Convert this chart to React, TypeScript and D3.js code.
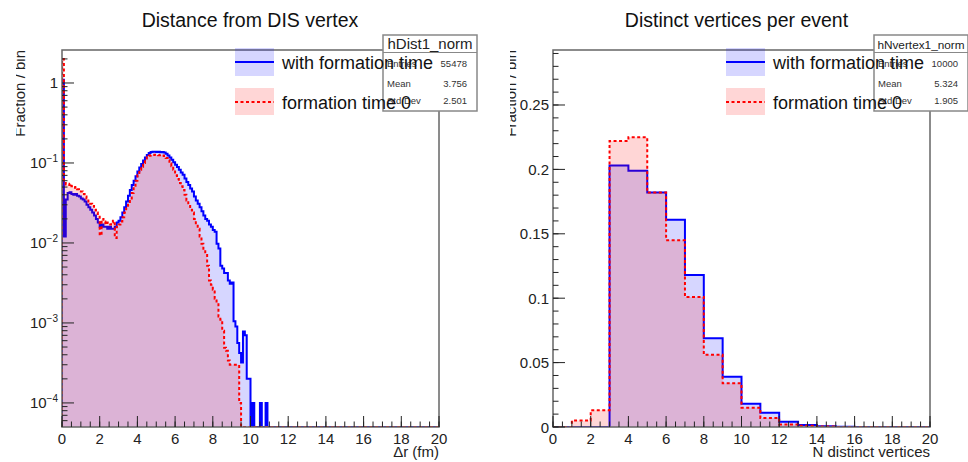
import React from "react";
import * as d3 from "d3";

const W = 968;
const H = 462;

// Distance from DIS vertex: 0.1 fm bins from 0 to 20 fm (bins past the lists are empty)
const distBinWidth = 0.1;
const distWithFormation = [
  1.1, 0.012, 0.035, 0.042, 0.043, 0.041, 0.04, 0.041, 0.039, 0.038,
  0.036, 0.035, 0.033, 0.03, 0.028, 0.026, 0.024, 0.022, 0.02, 0.018,
  0.016, 0.017, 0.016, 0.016, 0.015, 0.016, 0.015, 0.015, 0.016, 0.018,
  0.019, 0.021, 0.024, 0.028, 0.033, 0.039, 0.046, 0.053, 0.06, 0.068,
  0.078, 0.088, 0.097, 0.107, 0.117, 0.126, 0.133, 0.137, 0.138, 0.138,
  0.137, 0.138, 0.136, 0.137, 0.135, 0.13, 0.124, 0.117, 0.11, 0.102,
  0.095, 0.089, 0.082, 0.076, 0.071, 0.064, 0.058, 0.053, 0.048, 0.044,
  0.038, 0.034, 0.031, 0.028, 0.025, 0.022, 0.02, 0.019, 0.017, 0.016,
  0.0145, 0.0138, 0.0098, 0.0085, 0.0052, 0.0048, 0.0042, 0.0042, 0.0034, 0.0031,
  0.0032, 0.00105, 0.0009, 0.00056, 0.00042, 0.00032, 0.00078, 0.0007, 0.0002, 0.0002,
  0, 0.0001, 0, 0, 0, 0.0001, 0, 0, 0.0001, 0,
];
const distFormationZero = [
  2.0, 0.056, 0.054, 0.053, 0.055, 0.051, 0.049, 0.05, 0.047, 0.046,
  0.044, 0.041, 0.038, 0.036, 0.033, 0.031, 0.029, 0.026, 0.024, 0.022,
  0.0125, 0.02, 0.0185, 0.017, 0.018, 0.017, 0.018, 0.019, 0.0115, 0.016,
  0.017, 0.0185, 0.021, 0.024, 0.027, 0.03, 0.036, 0.042, 0.05, 0.06,
  0.07, 0.082, 0.09, 0.1, 0.11, 0.118, 0.123, 0.126, 0.126, 0.127,
  0.126, 0.125, 0.126, 0.124, 0.122, 0.115, 0.108, 0.099, 0.091, 0.082,
  0.07, 0.063, 0.056, 0.051, 0.046, 0.04, 0.034, 0.029, 0.026, 0.024,
  0.02, 0.017, 0.015, 0.012, 0.0098, 0.0082, 0.0073, 0.0052, 0.0034, 0.003,
  0.0026, 0.002, 0.0018, 0.0012, 0.0011, 0.0008, 0.00049, 0.00045, 0.00034, 0.0003,
  0.0003, 0.0003, 0.0003, 0.0003, 0.0001, 0,
];

// Distinct vertices per event: unit bins from 0 to 20
const nvBinWidth = 1;
const nvWithFormation = [
  0, 0, 0, 0.203, 0.199, 0.182, 0.161, 0.118, 0.069, 0.039,
  0.018, 0.011, 0.004, 0.0015, 0.0005, 0.0002, 0, 0, 0, 0,
];
const nvFormationZero = [
  0, 0.005, 0.013, 0.222, 0.225, 0.182, 0.145, 0.101, 0.056, 0.034,
  0.015, 0.007, 0.002, 0.001, 0.0003, 0, 0, 0, 0, 0,
];

const legendLabels = ["with formation time", "formation time 0"];
const xTickValues = [0, 2, 4, 6, 8, 10, 12, 14, 16, 18, 20];
const linTickValues = [0, 0.05, 0.1, 0.15, 0.2, 0.25];
const linTickLabels = ["0", "0.05", "0.1", "0.15", "0.2", "0.25"];
const logTickExps = [-4, -3, -2, -1, 0];

const distStats = { name: "hDist1_norm", entries: "55478", mean: "3.756", std: "2.501" };
const nvStats = { name: "hNvertex1_norm", entries: "10000", mean: "5.324", std: "1.905" };

const BLUE = "#0000ff";
const RED = "#ff0000";
const FONT = "'Liberation Sans', Arial, Helvetica, sans-serif";

const TOP = 50;
const BOTTOM = 427;
const FW = 377;

type PanelProps = {
  x0: number;
  title: string;
  titleX: number;
  xTitle: string;
  log: boolean;
  binWidth: number;
  blue: number[];
  red: number[];
  stats: typeof distStats;
  statsTitleSize: number;
  yTitleX: number;
  yTitleClip: number;
  id: string;
};

function Panel(p: PanelProps) {
  const x = d3.scaleLinear().domain([0, 20]).range([p.x0, p.x0 + FW]);
  const yMin = 5.0e-5;
  const yLog = d3.scaleLog().domain([yMin, 2.585]).range([BOTTOM, TOP]);
  const yLin = d3.scaleLinear().domain([0, 0.2927]).range([BOTTOM, TOP]);
  const yc = (v: number) => (p.log ? yLog(Math.max(v, yMin)) : yLin(v));

  const nBins = Math.round(20 / p.binWidth);
  const steps = (vals: number[]) => {
    const pts: [number, number][] = [];
    for (let i = 0; i < nBins; i++) {
      const v = vals[i] ?? 0;
      pts.push([i * p.binWidth, v], [(i + 1) * p.binWidth, v]);
    }
    return pts;
  };
  const line = d3
    .line<[number, number]>()
    .x((d) => x(d[0]))
    .y((d) => yc(d[1]));
  const area = d3
    .area<[number, number]>()
    .x((d) => x(d[0]))
    .y0(BOTTOM)
    .y1((d) => yc(d[1]));

  const bluePts = steps(p.blue);
  const redPts = steps(p.red);

  const xMinor = d3.range(0, 20.001, 0.5);
  const majorLen = 11;
  const minorLen = 5.5;

  // y ticks
  const yMajor: { y: number; label: React.ReactNode }[] = [];
  const yMinorPos: number[] = [];
  if (p.log) {
    logTickExps.forEach((e) => {
      yMajor.push({
        y: yLog(Math.pow(10, e)),
        label:
          e === 0 ? (
            "1"
          ) : (
            <>
              10
              <tspan dy={-6} fontSize={10}>
                {"\u2212" + -e}
              </tspan>
            </>
          ),
      });
    });
    for (let e = -5; e <= 0; e++) {
      for (let k = 2; k <= 9; k++) {
        const v = k * Math.pow(10, e);
        if (v > yMin && v < 2.585) yMinorPos.push(yLog(v));
      }
    }
  } else {
    linTickValues.forEach((v, i) => yMajor.push({ y: yLin(v), label: linTickLabels[i] }));
    d3.range(0, 0.2927, 0.01).forEach((v) => yMinorPos.push(yLin(v)));
  }

  const clipId = "frame-" + p.id;
  const titleClipId = "ytitle-" + p.id;
  const sx0 = p.x0 + 321;
  const sx1 = p.x0 + 415;
  const lx = p.x0 + 173;

  return (
    <g fontFamily={FONT}>
      <defs>
        <clipPath id={clipId}>
          <rect x={p.x0} y={TOP} width={FW} height={BOTTOM - TOP} />
        </clipPath>
        <clipPath id={titleClipId}>
          <rect x={p.yTitleClip} y={0} width={60} height={H} />
        </clipPath>
      </defs>

      <text x={p.titleX} y={26.5} textAnchor="middle" fontSize={19.5} fill="#111">
        {p.title}
      </text>

      {/* histograms */}
      <g clipPath={`url(#${clipId})`}>
        <path d={area(bluePts) ?? ""} fill={BLUE} fillOpacity={0.16} stroke="none" />
        <path d={line([[0, 0], ...bluePts, [20, 0]]) ?? ""} fill="none" stroke={BLUE} strokeWidth={2} />
        <path d={area(redPts) ?? ""} fill={RED} fillOpacity={0.16} stroke="none" />
        <path
          d={line([[0, 0], ...redPts, [20, 0]]) ?? ""}
          fill="none"
          stroke={RED}
          strokeWidth={2}
          strokeDasharray="3 2.5"
        />
      </g>

      {/* frame */}
      <rect x={p.x0} y={TOP} width={FW} height={BOTTOM - TOP} fill="none" stroke="#666" strokeWidth={1.5} />

      {/* x axis */}
      {xMinor.map((v) => (
        <line key={"xm" + v} x1={x(v)} x2={x(v)} y1={BOTTOM} y2={BOTTOM - minorLen} stroke="#222" strokeWidth={1} />
      ))}
      {xTickValues.map((v) => (
        <g key={"xM" + v}>
          <line x1={x(v)} x2={x(v)} y1={BOTTOM} y2={BOTTOM - majorLen} stroke="#222" strokeWidth={1} />
          <text x={x(v)} y={444} textAnchor="middle" fontSize={15} fill="#222">
            {v}
          </text>
        </g>
      ))}
      <text x={p.x0 + FW} y={457} textAnchor="end" fontSize={15} fill="#222">
        {p.xTitle}
      </text>

      {/* y axis */}
      {yMinorPos.map((y, i) => (
        <line key={"ym" + i} x1={p.x0} x2={p.x0 + minorLen} y1={y} y2={y} stroke="#222" strokeWidth={1} />
      ))}
      {yMajor.map((t, i) => (
        <g key={"yM" + i}>
          <line x1={p.x0} x2={p.x0 + 12} y1={t.y} y2={t.y} stroke="#222" strokeWidth={1} />
          <text x={p.x0 - 4} y={t.y + 5.5} textAnchor="end" fontSize={15} fill="#222">
            {t.label}
          </text>
        </g>
      ))}
      <g clipPath={`url(#${titleClipId})`}>
        <text
          transform={`translate(${p.yTitleX},${TOP}) rotate(-90)`}
          textAnchor="end"
          fontSize={15}
          fill="#222"
        >
          Fraction / bin
        </text>
      </g>

      {/* stats box */}
      <rect x={sx0} y={35} width={sx1 - sx0} height={76} fill="#fff" stroke="#888" strokeWidth={1.5} />
      <line x1={sx0} x2={sx1} y1={52.5} y2={52.5} stroke="#888" strokeWidth={1} />
      <text x={(sx0 + sx1) / 2} y={49} textAnchor="middle" fontSize={p.statsTitleSize} fill="#222">
        {p.stats.name}
      </text>
      {[
        ["Entries", p.stats.entries, 67],
        ["Mean", p.stats.mean, 87],
        ["Std Dev", p.stats.std, 104],
      ].map(([k, v, y]) => (
        <g key={k as string} fontSize={9.5} fill="#333">
          <text x={sx0 + 4} y={y as number}>
            {k}
          </text>
          <text x={sx1 - 10} y={y as number} textAnchor="end">
            {v}
          </text>
        </g>
      ))}

      {/* legend */}
      <rect x={lx} y={48} width={39} height={28} fill={BLUE} fillOpacity={0.16} />
      <line x1={lx} x2={lx + 39} y1={62} y2={62} stroke={BLUE} strokeWidth={2} />
      <text x={lx + 47} y={69} fontSize={18} fill="#111">
        {legendLabels[0]}
      </text>
      <rect x={lx} y={88} width={39} height={27} fill={RED} fillOpacity={0.16} />
      <line x1={lx} x2={lx + 39} y1={102} y2={102} stroke={RED} strokeWidth={2} strokeDasharray="3 2.5" />
      <text x={lx + 47} y={109} fontSize={18} fill="#111">
        {legendLabels[1]}
      </text>
    </g>
  );
}

export default function App() {
  return (
    <svg
      width={W}
      height={H}
      viewBox={`0 0 ${W} ${H}`}
      style={{ position: "absolute", left: 0, top: 0, background: "#fff" }}
    >
      <rect width={W} height={H} fill="#fff" />
      <Panel
        id="dist"
        x0={62}
        title="Distance from DIS vertex"
        titleX={250}
        xTitle={"\u0394r (fm)"}
        log={true}
        binWidth={distBinWidth}
        blue={distWithFormation}
        red={distFormationZero}
        stats={distStats}
        statsTitleSize={15}
        yTitleX={25}
        yTitleClip={16}
      />
      <Panel
        id="nv"
        x0={553}
        title="Distinct vertices per event"
        titleX={736.5}
        xTitle="N distinct vertices"
        log={false}
        binWidth={nvBinWidth}
        blue={nvWithFormation}
        red={nvFormationZero}
        stats={nvStats}
        statsTitleSize={11.8}
        yTitleX={516}
        yTitleClip={510}
      />
    </svg>
  );
}
